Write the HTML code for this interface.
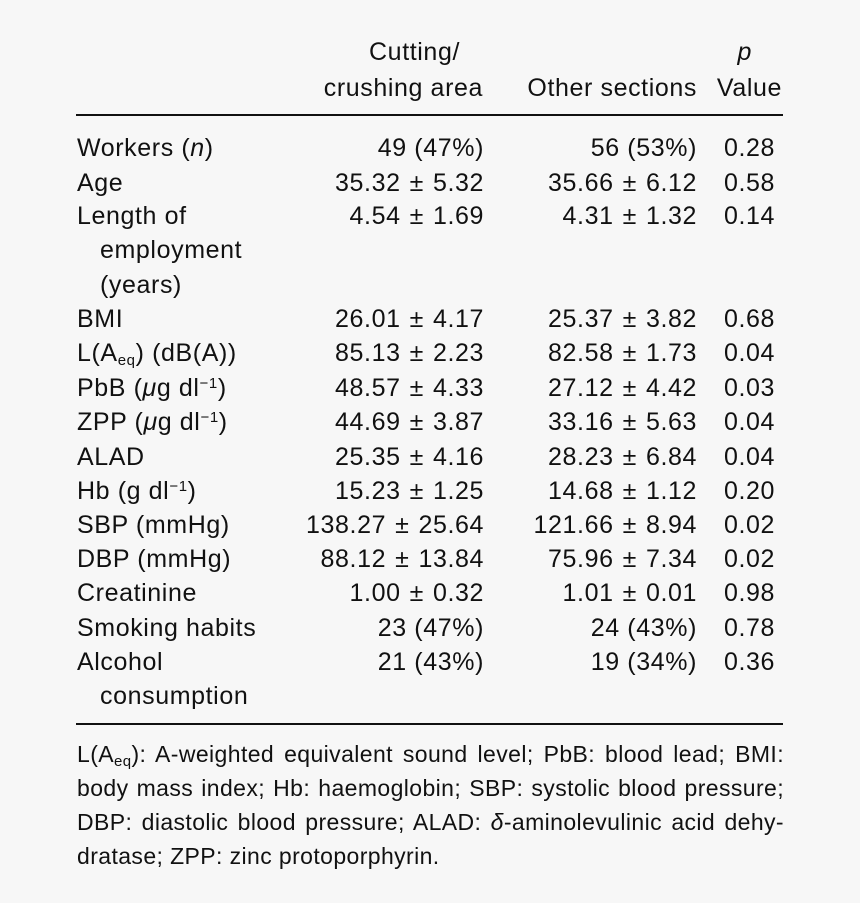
<!DOCTYPE html>
<html><head><meta charset="utf-8"><style>
html,body{margin:0;padding:0;background:#f7f7f7;}
body{width:860px;height:903px;position:relative;overflow:hidden;font-family:"Liberation Sans",sans-serif;font-size:25px;letter-spacing:0.6px;color:#111;}
.r{position:absolute;left:0;width:860px;height:34px;line-height:34px;}
.r span{position:absolute;white-space:nowrap;}
.r span .pm{position:static;margin:0 9px;}
.l{left:77px;}
.c1{right:376px;}
.c2{right:163px;}
.c3{right:85px;}
.hr{position:absolute;left:76px;width:707px;height:2px;background:#111;}
.fn{position:absolute;left:77px;width:707px;white-space:nowrap;line-height:34px;text-align:justify;text-align-last:justify;}
.fn.last{text-align-last:left;}
sub{font-size:15px;vertical-align:-4px;line-height:0;}
sup{font-size:15px;vertical-align:8px;line-height:0;}
</style></head><body>
<div>
<div class="r" style="top:35px"><span style="right:400px">Cutting/</span><span style="right:108px;font-style:italic">p</span></div>
<div class="r" style="top:71px"><span style="right:377px">crushing area</span><span style="right:163px">Other sections</span><span style="right:78px">Value</span></div>
</div>
<div class="hr" style="top:114px"></div>
<div>
<div class="r" style="top:131px"><span class="l">Workers (<i>n</i>)</span><span class="c1">49 (47%)</span><span class="c2">56 (53%)</span><span class="c3">0.28</span></div>
<div class="r" style="top:166px"><span class="l">Age</span><span class="c1">35.32<span class="pm">±</span>5.32</span><span class="c2">35.66<span class="pm">±</span>6.12</span><span class="c3">0.58</span></div>
<div class="r" style="top:199px"><span class="l">Length of</span><span class="c1">4.54<span class="pm">±</span>1.69</span><span class="c2">4.31<span class="pm">±</span>1.32</span><span class="c3">0.14</span></div>
<div class="r" style="top:233px"><span class="l" style="left:100px">employment</span></div>
<div class="r" style="top:268px"><span class="l" style="left:100px">(years)</span></div>
<div class="r" style="top:302px"><span class="l">BMI</span><span class="c1">26.01<span class="pm">±</span>4.17</span><span class="c2">25.37<span class="pm">±</span>3.82</span><span class="c3">0.68</span></div>
<div class="r" style="top:336px"><span class="l">L(A<sub>eq</sub>) (dB(A))</span><span class="c1">85.13<span class="pm">±</span>2.23</span><span class="c2">82.58<span class="pm">±</span>1.73</span><span class="c3">0.04</span></div>
<div class="r" style="top:371px"><span class="l">PbB (<i>μ</i>g dl<sup>−1</sup>)</span><span class="c1">48.57<span class="pm">±</span>4.33</span><span class="c2">27.12<span class="pm">±</span>4.42</span><span class="c3">0.03</span></div>
<div class="r" style="top:405px"><span class="l">ZPP (<i>μ</i>g dl<sup>−1</sup>)</span><span class="c1">44.69<span class="pm">±</span>3.87</span><span class="c2">33.16<span class="pm">±</span>5.63</span><span class="c3">0.04</span></div>
<div class="r" style="top:440px"><span class="l">ALAD</span><span class="c1">25.35<span class="pm">±</span>4.16</span><span class="c2">28.23<span class="pm">±</span>6.84</span><span class="c3">0.04</span></div>
<div class="r" style="top:474px"><span class="l">Hb (g dl<sup>−1</sup>)</span><span class="c1">15.23<span class="pm">±</span>1.25</span><span class="c2">14.68<span class="pm">±</span>1.12</span><span class="c3">0.20</span></div>
<div class="r" style="top:508px"><span class="l">SBP (mmHg)</span><span class="c1">138.27<span class="pm">±</span>25.64</span><span class="c2">121.66<span class="pm">±</span>8.94</span><span class="c3">0.02</span></div>
<div class="r" style="top:542px"><span class="l">DBP (mmHg)</span><span class="c1">88.12<span class="pm">±</span>13.84</span><span class="c2">75.96<span class="pm">±</span>7.34</span><span class="c3">0.02</span></div>
<div class="r" style="top:576px"><span class="l">Creatinine</span><span class="c1">1.00<span class="pm">±</span>0.32</span><span class="c2">1.01<span class="pm">±</span>0.01</span><span class="c3">0.98</span></div>
<div class="r" style="top:611px"><span class="l">Smoking habits</span><span class="c1">23 (47%)</span><span class="c2">24 (43%)</span><span class="c3">0.78</span></div>
<div class="r" style="top:645px"><span class="l">Alcohol</span><span class="c1">21 (43%)</span><span class="c2">19 (34%)</span><span class="c3">0.36</span></div>
<div class="r" style="top:679px"><span class="l" style="left:100px">consumption</span></div>
</div>
<div class="hr" style="top:723px"></div>
<div style="font-size:23px;letter-spacing:0.4px">
<div class="fn" style="top:737px">L(A<sub>eq</sub>): A-weighted equivalent sound level; PbB: blood lead; BMI:</div>
<div class="fn" style="top:771px">body mass index; Hb: haemoglobin; SBP: systolic blood pressure;</div>
<div class="fn" style="top:805px">DBP: diastolic blood pressure; ALAD: <i>δ</i>-aminolevulinic acid dehy-</div>
<div class="fn last" style="top:839px">dratase; ZPP: zinc protoporphyrin.</div>
</div>
</body></html>
